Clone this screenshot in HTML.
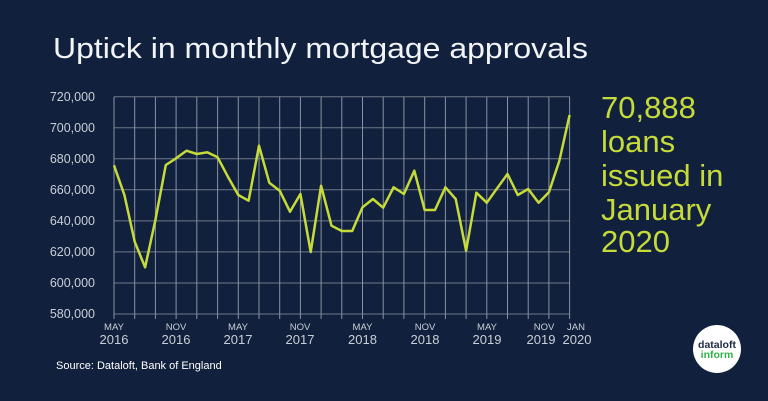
<!DOCTYPE html>
<html><head><meta charset="utf-8"><style>
html,body{margin:0;padding:0;background:#11213d;}
svg{display:block;font-family:"Liberation Sans",sans-serif;}
</style></head><body>
<svg width="768" height="401" viewBox="0 0 768 401" xmlns="http://www.w3.org/2000/svg">
<rect width="768" height="401" fill="#11213d"/>
<text x="53" y="58" fill="#f2f4f7" font-size="29" textLength="535" lengthAdjust="spacingAndGlyphs">Uptick in monthly mortgage approvals</text>
<g stroke="#6f7888" stroke-width="1">
<line x1="114" x2="570" y1="96.7" y2="96.7"/><line x1="114" x2="570" y1="127.7" y2="127.7"/>
<line x1="114" x2="570" y1="158.8" y2="158.8"/><line x1="114" x2="570" y1="189.8" y2="189.8"/>
<line x1="114" x2="570" y1="220.9" y2="220.9"/><line x1="114" x2="570" y1="251.9" y2="251.9"/>
<line x1="114" x2="570" y1="283" y2="283"/><line x1="114" x2="570" y1="314" y2="314"/>
</g>
<g stroke="#8a92a0" stroke-width="1">
<line x1="114" x2="114" y1="96.7" y2="319"/>
<line x1="134.7" x2="134.7" y1="96.7" y2="319"/>
<line x1="155.4" x2="155.4" y1="96.7" y2="319"/>
<line x1="176.1" x2="176.1" y1="96.7" y2="319"/>
<line x1="196.8" x2="196.8" y1="96.7" y2="319"/>
<line x1="217.6" x2="217.6" y1="96.7" y2="319"/>
<line x1="238.3" x2="238.3" y1="96.7" y2="319"/>
<line x1="259" x2="259" y1="96.7" y2="319"/>
<line x1="279.7" x2="279.7" y1="96.7" y2="319"/>
<line x1="300.4" x2="300.4" y1="96.7" y2="319"/>
<line x1="321.1" x2="321.1" y1="96.7" y2="319"/>
<line x1="341.8" x2="341.8" y1="96.7" y2="319"/>
<line x1="362.5" x2="362.5" y1="96.7" y2="319"/>
<line x1="383.2" x2="383.2" y1="96.7" y2="319"/>
<line x1="403.9" x2="403.9" y1="96.7" y2="319"/>
<line x1="424.7" x2="424.7" y1="96.7" y2="319"/>
<line x1="445.4" x2="445.4" y1="96.7" y2="319"/>
<line x1="466.1" x2="466.1" y1="96.7" y2="319"/>
<line x1="486.8" x2="486.8" y1="96.7" y2="319"/>
<line x1="507.5" x2="507.5" y1="96.7" y2="319"/>
<line x1="528.2" x2="528.2" y1="96.7" y2="319"/>
<line x1="548.9" x2="548.9" y1="96.7" y2="319"/>
<line x1="569.6" x2="569.6" y1="96.7" y2="319"/>
</g>
<g fill="#c9ced6" font-size="12.5" text-anchor="end">
<text x="95" y="101">720,000</text><text x="95" y="132">700,000</text><text x="95" y="163">680,000</text>
<text x="95" y="194">660,000</text><text x="95" y="225">640,000</text><text x="95" y="256">620,000</text>
<text x="95" y="287">600,000</text><text x="95" y="318">580,000</text>
</g>
<g fill="#c9ced6" text-anchor="middle">
<g font-size="9.5">
<text x="114" y="330">MAY</text><text x="176" y="330">NOV</text><text x="238" y="330">MAY</text>
<text x="300" y="330">NOV</text><text x="362.5" y="330">MAY</text><text x="425" y="330">NOV</text>
<text x="487" y="330">MAY</text><text x="544" y="330">NOV</text><text x="576" y="330">JAN</text>
</g>
<g font-size="13">
<text x="114" y="344">2016</text><text x="176" y="344">2016</text><text x="238" y="344">2017</text>
<text x="300" y="344">2017</text><text x="362.5" y="344">2018</text><text x="425" y="344">2018</text>
<text x="487" y="344">2019</text><text x="541" y="344">2019</text><text x="577" y="344">2020</text>
</g>
</g>
<polyline fill="none" stroke="#c6da3a" stroke-width="2.5" stroke-linejoin="round" points="114,165.3 124.4,195 134.7,241.7 145.1,267.3 155.4,220 165.8,165 176.1,158.3 186.5,150.7 196.8,154 207.2,152.3 217.6,157.3 227.9,176.7 238.3,195 248.6,200.7 259,145.7 269.3,182.7 279.7,190.7 290,211.7 300.4,194 310.7,252 321.1,185.7 331.5,225.7 341.8,231 352.2,231 362.5,207.3 372.9,199 383.2,207.7 393.6,187.3 403.9,194 414.3,170.7 424.7,210 435,210 445.4,187.3 455.7,199 466.1,250.7 476.4,192.7 486.8,202.7 497.1,188.3 507.5,174 517.8,195 528.2,189 538.6,202.7 548.9,192.3 559.3,161 569.6,115"/>
<g fill="#c6da3a" font-size="31">
<text x="601" y="118">70,888</text><text x="601" y="152">loans</text><text x="601" y="186">issued in</text>
<text x="601" y="220">January</text><text x="601" y="252">2020</text>
</g>
<text x="56" y="369" fill="#ffffff" font-size="11">Source: Dataloft, Bank of England</text>
<circle cx="717" cy="349" r="24" fill="#ffffff"/>
<text x="717" y="348" text-anchor="middle" font-size="10.5" fill="#1d2a44" font-weight="bold">dataloft</text>
<text x="717" y="358" text-anchor="middle" font-size="10.5" fill="#2fb34a" font-weight="bold">inform</text>
</svg>
</body></html>
